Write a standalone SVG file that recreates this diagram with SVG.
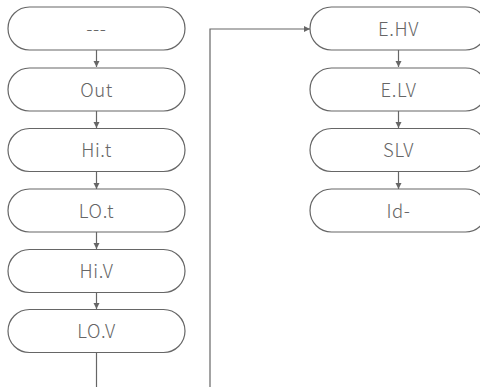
<svg xmlns="http://www.w3.org/2000/svg" width="480" height="387" viewBox="0 0 480 387">
<defs>
<marker id="ah" markerWidth="8" markerHeight="8" refX="7" refY="4" orient="auto" markerUnits="userSpaceOnUse">
<path d="M1,1 L7,4 L1,7 Z" fill="#666"/>
</marker>
<style>
.n rect{fill:#fff;stroke:#666;stroke-width:1.2}
.n text{font-family:"Noto Sans CJK KR","Noto Sans",sans-serif;font-weight:300;font-size:18.5px;letter-spacing:0.6px;fill:#666;text-anchor:middle;dominant-baseline:central}
.c path{fill:none;stroke:#666;stroke-width:1.2}
</style>
</defs>
<rect width="480" height="387" fill="#fff"/>
<g class="c">
<path d="M96.5,50 V67" marker-end="url(#ah)"/>
<path d="M96.5,111 V128" marker-end="url(#ah)"/>
<path d="M96.5,171 V189" marker-end="url(#ah)"/>
<path d="M96.5,232 V249" marker-end="url(#ah)"/>
<path d="M96.5,292 V309" marker-end="url(#ah)"/>
<path d="M96.5,353 V387"/>
<path d="M210,387 V29 H310" marker-end="url(#ah)"/>
<path d="M398.5,50 V67" marker-end="url(#ah)"/>
<path d="M398.5,111 V128" marker-end="url(#ah)"/>
<path d="M398.5,171 V189" marker-end="url(#ah)"/>
</g>
<g id="n1" class="n"><rect x="8" y="7" width="177" height="43" rx="21.5"/><text x="96.5" y="27.5">---</text></g>
<g id="n2" class="n"><rect x="8" y="68" width="177" height="43" rx="21.5"/><text x="96.5" y="88.5">Out</text></g>
<g id="n3" class="n"><rect x="8" y="128.5" width="177" height="43" rx="21.5"/><text x="96.5" y="149">Hi.t</text></g>
<g id="n4" class="n"><rect x="8" y="189" width="177" height="43" rx="21.5"/><text x="96.5" y="209.5">LO.t</text></g>
<g id="n5" class="n"><rect x="8" y="249.5" width="177" height="43" rx="21.5"/><text x="96.5" y="270">Hi.V</text></g>
<g id="n6" class="n"><rect x="8" y="309.5" width="177" height="43" rx="21.5"/><text x="96.5" y="330">LO.V</text></g>
<g id="n7" class="n"><rect x="310" y="7" width="177" height="43" rx="21.5"/><text x="398.5" y="27.5">E.HV</text></g>
<g id="n8" class="n"><rect x="310" y="68" width="177" height="43" rx="21.5"/><text x="398.5" y="88.5">E.LV</text></g>
<g id="n9" class="n"><rect x="310" y="128.5" width="177" height="43" rx="21.5"/><text x="398.5" y="149">SLV</text></g>
<g id="n10" class="n"><rect x="310" y="189" width="177" height="43" rx="21.5"/><text x="398.5" y="209.5">Id-</text></g>
</svg>
